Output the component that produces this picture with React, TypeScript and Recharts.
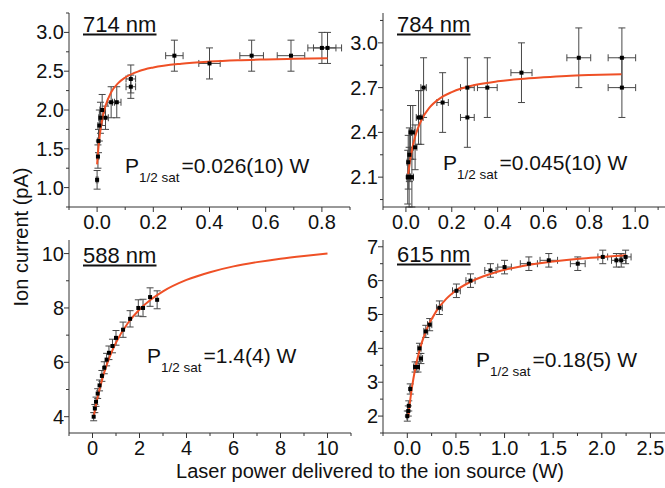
import React from "react";
import { ComposedChart, Scatter, Line, XAxis, YAxis, ErrorBar } from "recharts";

const FONT = "'Liberation Sans', Arial, Helvetica, sans-serif";
const FIT = "#ef5026";
const AXIS = "#333333";
const BAR = "#474747";

// ---- 714 nm ----
const x714 = [0.0, 0.003, 0.005, 0.008, 0.012, 0.018, 0.03, 0.05, 0.07, 0.12, 0.12, 0.275, 0.4, 0.55, 0.69, 0.8, 0.82];
const y714 = [1.1, 1.4, 1.6, 1.8, 1.9, 2.0, 1.9, 2.1, 2.1, 2.4, 2.3, 2.7, 2.6, 2.7, 2.7, 2.8, 2.8];
const ex714 = [0.003, 0.003, 0.004, 0.005, 0.006, 0.008, 0.01, 0.012, 0.015, 0.017, 0.017, 0.031, 0.038, 0.042, 0.049, 0.05, 0.05];
const ey714 = [0.12, 0.15, 0.15, 0.2, 0.2, 0.2, 0.15, 0.2, 0.2, 0.18, 0.15, 0.2, 0.2, 0.2, 0.2, 0.2, 0.2];
const fitX714 = [0, 0.005, 0.01, 0.02, 0.03, 0.05, 0.075, 0.1, 0.15, 0.2, 0.3, 0.4, 0.5, 0.6, 0.7, 0.82];
const fitY714 = [1.3, 1.527, 1.692, 1.913, 2.055, 2.228, 2.347, 2.419, 2.502, 2.548, 2.597, 2.624, 2.641, 2.651, 2.659, 2.666];

// ---- 784 nm ----
const x784 = [0.008, 0.01, 0.015, 0.014, 0.026, 0.02, 0.03, 0.04, 0.055, 0.065, 0.077, 0.16, 0.268, 0.268, 0.355, 0.504, 0.754, 0.942, 0.942];
const y784 = [2.1, 2.2, 2.25, 2.1, 2.1, 2.4, 2.4, 2.3, 2.5, 2.5, 2.7, 2.6, 2.7, 2.5, 2.7, 2.8, 2.9, 2.9, 2.7];
const ex784 = [0.005, 0.005, 0.006, 0.006, 0.007, 0.006, 0.008, 0.008, 0.01, 0.01, 0.012, 0.025, 0.03, 0.03, 0.043, 0.046, 0.052, 0.06, 0.06];
const ey784 = [0.18, 0.18, 0.18, 0.2, 0.2, 0.18, 0.18, 0.15, 0.18, 0.18, 0.2, 0.2, 0.2, 0.2, 0.2, 0.2, 0.2, 0.2, 0.2];
const fitX784 = [0.01, 0.02, 0.03, 0.04, 0.05, 0.07, 0.1, 0.15, 0.2, 0.3, 0.4, 0.5, 0.6, 0.7, 0.8, 0.94];
const fitY784 = [2.12, 2.229, 2.309, 2.371, 2.419, 2.49, 2.561, 2.63, 2.67, 2.717, 2.742, 2.758, 2.769, 2.778, 2.784, 2.79];

// ---- 588 nm ----
const x588 = [0.05, 0.1, 0.15, 0.22, 0.3, 0.4, 0.5, 0.6, 0.7, 0.85, 1.0, 1.3, 1.6, 1.95, 2.15, 2.45, 2.75];
const y588 = [4.0, 4.3, 4.55, 4.85, 5.15, 5.5, 5.8, 6.1, 6.35, 6.6, 6.9, 7.2, 7.6, 8.0, 8.0, 8.4, 8.3];
const ey588 = [0.15, 0.15, 0.17, 0.18, 0.2, 0.2, 0.22, 0.23, 0.25, 0.25, 0.27, 0.28, 0.3, 0.3, 0.32, 0.34, 0.33];
const fitX588 = [0.05, 0.2, 0.4, 0.6, 0.8, 1, 1.5, 2, 2.5, 3, 4, 5, 6, 7, 8, 9, 10];
const fitY588 = [4.0, 4.645, 5.336, 5.891, 6.347, 6.724, 7.436, 7.942, 8.319, 8.611, 9.031, 9.316, 9.529, 9.686, 9.814, 9.914, 10.0];

// ---- 615 nm ----
const x615 = [0.0, 0.01, 0.015, 0.03, 0.08, 0.11, 0.125, 0.14, 0.19, 0.23, 0.33, 0.505, 0.65, 0.855, 1.0, 1.25, 1.455, 1.753, 2.01, 2.15, 2.2, 2.245];
const y615 = [2.0, 2.15, 2.3, 2.8, 3.45, 3.45, 4.0, 3.7, 4.5, 4.7, 5.2, 5.7, 6.0, 6.3, 6.4, 6.5, 6.6, 6.5, 6.7, 6.6, 6.6, 6.7];
const ex615 = [0.005, 0.005, 0.006, 0.008, 0.015, 0.015, 0.016, 0.017, 0.02, 0.022, 0.03, 0.04, 0.047, 0.058, 0.07, 0.088, 0.09, 0.076, 0.05, 0.05, 0.05, 0.056];
const ey615 = [0.15, 0.15, 0.15, 0.15, 0.15, 0.15, 0.15, 0.15, 0.18, 0.18, 0.2, 0.2, 0.2, 0.2, 0.2, 0.2, 0.2, 0.2, 0.2, 0.2, 0.2, 0.2];
const fitX615 = [0.01, 0.03, 0.05, 0.075, 0.1, 0.15, 0.2, 0.3, 0.4, 0.5, 0.7, 0.9, 1.2, 1.5, 1.8, 2.0, 2.25];
const fitY615 = [1.987, 2.479, 2.884, 3.303, 3.646, 4.177, 4.568, 5.106, 5.46, 5.707, 6.034, 6.242, 6.441, 6.566, 6.655, 6.7, 6.747];

// ---- ticks ----
const xMajor714 = [0, 0.2, 0.4, 0.6, 0.8];
const xMinor714 = [-0.1, 0.1, 0.3, 0.5, 0.7, 0.9];
const yMajor714 = [1, 1.5, 2, 2.5, 3];
const yMinor714 = [0.75, 1.25, 1.75, 2.25, 2.75, 3.25];
const xMajor784 = [0, 0.2, 0.4, 0.6, 0.8, 1.0];
const xMinor784 = [-0.1, 0.1, 0.3, 0.5, 0.7, 0.9, 1.1];
const yMajor784 = [2.1, 2.4, 2.7, 3.0];
const yMinor784 = [1.95, 2.25, 2.55, 2.85, 3.15];
const xMajor588 = [0, 2, 4, 6, 8, 10];
const xMinor588 = [-1, 1, 3, 5, 7, 9, 11];
const yMajor588 = [4, 6, 8, 10];
const yMinor588 = [5, 7, 9];
const xMajor615 = [0, 0.5, 1.0, 1.5, 2.0, 2.5];
const xMinor615 = [-0.25, 0.25, 0.75, 1.25, 1.75, 2.25];
const yMajor615 = [2, 3, 4, 5, 6, 7];
const yMinor615 = [1.5, 2.5, 3.5, 4.5, 5.5, 6.5];

const toPoints = (xs: number[], ys: number[], exs: number[] | null, eys: number[]) =>
  xs.map((x, i) => ({ x, y: ys[i], ex: exs ? exs[i] : 0, ey: eys[i] }));
const toLine = (xs: number[], ys: number[]) => xs.map((x, i) => ({ x, y: ys[i] }));

const isIn = (v: number, list: number[]) => list.some((m) => Math.abs(m - v) < 1e-6);

const renderXTick = (p: any, majors: number[], digits: number) => {
  const v = p.payload.value;
  const major = isIn(v, majors);
  return (
    <g>
      <line x1={p.x} x2={p.x} y1={p.y} y2={p.y + (major ? 5 : 3)} stroke={AXIS} />
      {major && (
        <text x={p.x} y={p.y + 22} textAnchor="middle" fontSize={20} fill="#111" fontFamily={FONT}>
          {v.toFixed(digits)}
        </text>
      )}
    </g>
  );
};

const renderYTick = (p: any, majors: number[], digits: number) => {
  const v = p.payload.value;
  const major = isIn(v, majors);
  return (
    <g>
      <line x1={p.x} x2={p.x - (major ? 5 : 3)} y1={p.y} y2={p.y} stroke={AXIS} />
      {major && (
        <text x={p.x - 5} y={p.y + 7} textAnchor="end" fontSize={20} fill="#111" fontFamily={FONT}>
          {v.toFixed(digits)}
        </text>
      )}
    </g>
  );
};

const squareDot = (p: any) => <rect x={p.cx - 2} y={p.cy - 2} width={4} height={4} fill="#000" />;

type PanelProps = {
  left: number;
  top: number;
  width: number;
  height: number;
  marginTop: number;
  marginRight: number;
  yWidth: number;
  xHeight: number;
  xDomain: [number, number];
  yDomain: [number, number];
  xMajor: number[];
  xMinor: number[];
  yMajor: number[];
  yMinor: number[];
  xDigits: number;
  yDigits: number;
  points: any[];
  fit: any[];
  xErr: boolean;
};

function Panel(props: PanelProps) {
  const xTicks = [...props.xMajor, ...props.xMinor].sort((a, b) => a - b);
  const yTicks = [...props.yMajor, ...props.yMinor].sort((a, b) => a - b);
  return (
    <div style={{ position: "absolute", left: props.left, top: props.top }}>
      <ComposedChart
        width={props.width}
        height={props.height}
        margin={{ top: props.marginTop, right: props.marginRight, left: 0, bottom: 0 }}
      >
        <XAxis
          type="number"
          dataKey="x"
          domain={props.xDomain}
          allowDataOverflow
          ticks={xTicks}
          interval={0}
          height={props.xHeight}
          tickLine={false}
          tickSize={0}
          tickMargin={0}
          stroke={AXIS}
          tick={(p: any) => renderXTick(p, props.xMajor, props.xDigits)}
        />
        <YAxis
          type="number"
          dataKey="y"
          domain={props.yDomain}
          allowDataOverflow
          ticks={yTicks}
          interval={0}
          width={props.yWidth}
          tickLine={false}
          tickSize={0}
          tickMargin={0}
          stroke={AXIS}
          tick={(p: any) => renderYTick(p, props.yMajor, props.yDigits)}
        />
        <Scatter data={props.points} dataKey="y" shape={squareDot} isAnimationActive={false}>
          {props.xErr && <ErrorBar dataKey="ex" direction="x" width={3.5} stroke={BAR} strokeWidth={1} />}
          <ErrorBar dataKey="ey" direction="y" width={3.5} stroke={BAR} strokeWidth={1} />
        </Scatter>
        <Line
          data={props.fit}
          dataKey="y"
          type="monotone"
          dot={false}
          activeDot={false}
          stroke={FIT}
          strokeWidth={2}
          isAnimationActive={false}
        />
      </ComposedChart>
    </div>
  );
}

function Psat({ x, y, value }: { x: number; y: number; value: string }) {
  return (
    <text x={x} y={y} fontSize={21} fill="#111" fontFamily={FONT}>
      P
      <tspan fontSize={13.5} dy={9}>1/2 sat</tspan>
      <tspan fontSize={21} dy={-9} dx={2}>{value}</tspan>
    </text>
  );
}

function Title({ x, y, label }: { x: number; y: number; label: string }) {
  return (
    <g>
      <text x={x} y={y} fontSize={22} fill="#111" fontFamily={FONT}>
        {label}
      </text>
      <rect x={x} y={y + 1.5} width={73.5} height={2} fill="#111" />
    </g>
  );
}

export default function App() {
  return (
    <div style={{ position: "absolute", left: 0, top: 0, width: 665, height: 488, background: "#fff", overflow: "hidden" }}>
      <Panel
        left={29} top={0} width={330} height={235} marginTop={13} marginRight={9} yWidth={40} xHeight={28}
        xDomain={[-0.1, 0.9]} yDomain={[0.75, 3.25]}
        xMajor={xMajor714} xMinor={xMinor714} yMajor={yMajor714} yMinor={yMinor714} xDigits={1} yDigits={1}
        points={toPoints(x714, y714, ex714, ey714)} fit={toLine(fitX714, fitY714)} xErr
      />
      <Panel
        left={340} top={0} width={325} height={235} marginTop={13} marginRight={0} yWidth={43} xHeight={28}
        xDomain={[-0.1, 1.13]} yDomain={[1.9, 3.2]}
        xMajor={xMajor784} xMinor={xMinor784} yMajor={yMajor784} yMinor={yMinor784} xDigits={1} yDigits={1}
        points={toPoints(x784, y784, ex784, ey784)} fit={toLine(fitX784, fitY784)} xErr
      />
      <Panel
        left={29} top={230} width={330} height={258} marginTop={10} marginRight={8} yWidth={40} xHeight={55}
        xDomain={[-1, 11]} yDomain={[3.4, 10.5]}
        xMajor={xMajor588} xMinor={xMinor588} yMajor={yMajor588} yMinor={yMinor588} xDigits={0} yDigits={0}
        points={toPoints(x588, y588, null, ey588)} fit={toLine(fitX588, fitY588)} xErr={false}
      />
      <Panel
        left={340} top={230} width={325} height={258} marginTop={10} marginRight={0} yWidth={43} xHeight={55}
        xDomain={[-0.25, 2.65]} yDomain={[1.5, 7.2]}
        xMajor={xMajor615} xMinor={xMinor615} yMajor={yMajor615} yMinor={yMinor615} xDigits={1} yDigits={0}
        points={toPoints(x615, y615, ex615, ey615)} fit={toLine(fitX615, fitY615)} xErr
      />
      <svg width={665} height={488} style={{ position: "absolute", left: 0, top: 0, pointerEvents: "none" }}>
        <Title x={83} y={32} label="714 nm" />
        <Title x={397} y={32} label="784 nm" />
        <Title x={83} y={263} label="588 nm" />
        <Title x={397} y={262} label="615 nm" />
        <Psat x={125} y={173} value="=0.026(10) W" />
        <Psat x={443} y={170} value="=0.045(10) W" />
        <Psat x={147} y={363} value="=1.4(4) W" />
        <Psat x={476} y={367} value="=0.18(5) W" />
        <text x={28} y={237} transform="rotate(-90 28 237)" textAnchor="middle" fontSize={20} fill="#111" fontFamily={FONT}>
          Ion current (pA)
        </text>
        <text x={370} y={478} textAnchor="middle" fontSize={20} fill="#111" fontFamily={FONT}>
          Laser power delivered to the ion source (W)
        </text>
      </svg>
    </div>
  );
}
